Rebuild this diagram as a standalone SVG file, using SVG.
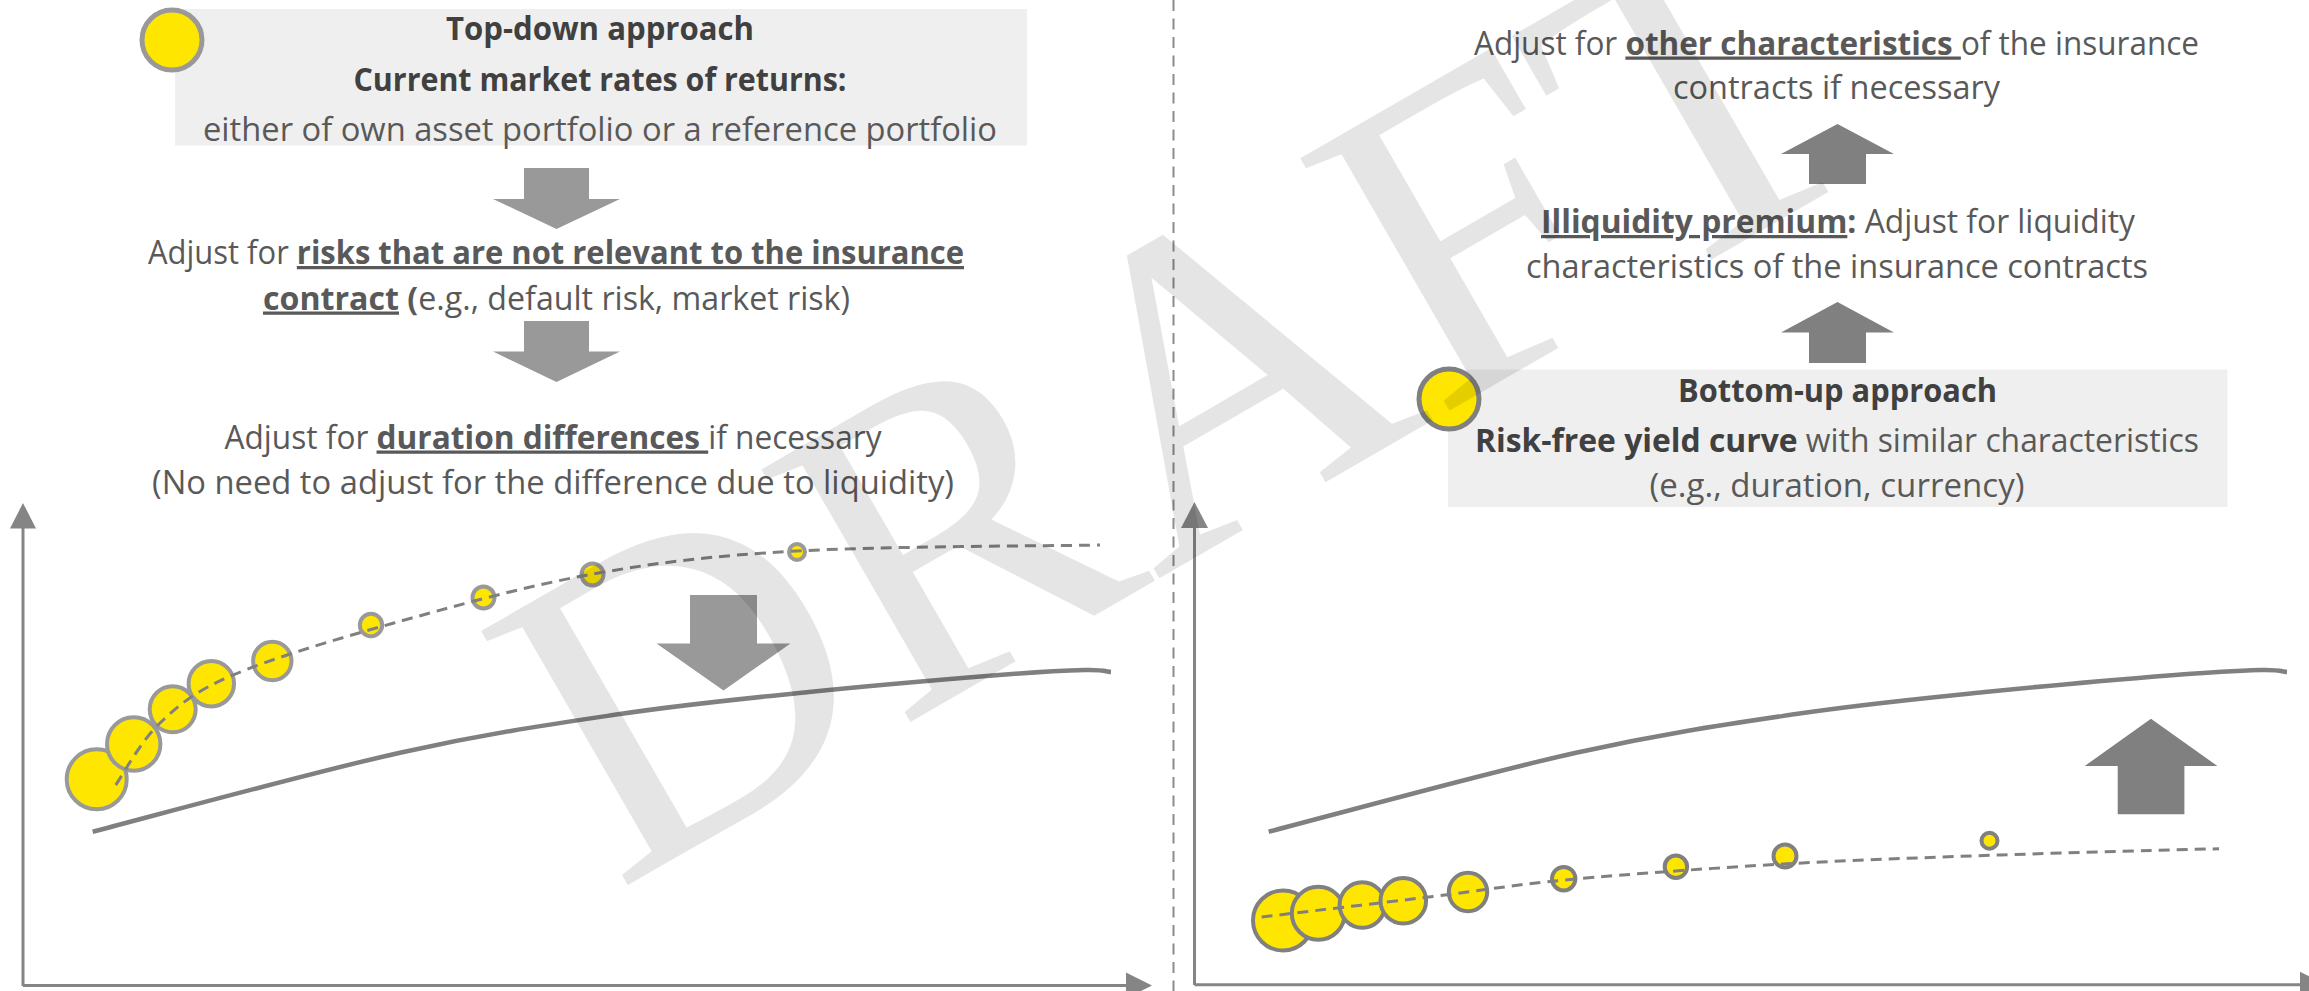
<svg xmlns="http://www.w3.org/2000/svg" width="2309" height="991" viewBox="0 0 2309 991">
<defs>
<style>
.txt{font-family:"Open Sans","Liberation Sans",sans-serif;font-size:32.5px;fill:#595959;}
.ttl{fill:#404040;font-weight:700;}
.b{font-weight:700;}
.u{text-decoration:underline;text-decoration-thickness:2.5px;text-underline-offset:5px;}
.box{fill:#efefef;}
.dotL{fill:#ffe600;stroke:#999999;stroke-width:4;}
.dotR{fill:#ffe600;stroke:#808080;stroke-width:4;}
.big{stroke-width:5;}
.arrL{fill:#999999;}
.arrR{fill:#808080;}
.axis{stroke:#858585;stroke-width:3;fill:none;}
.head{fill:#858585;}
.solid{stroke:#808080;stroke-width:4.5;fill:none;}
.dash{stroke:#808080;stroke-width:3;fill:none;stroke-dasharray:11 7;}
.divider{stroke:#8c8c8c;stroke-width:2;stroke-dasharray:11 7.5;}
.wm{font-family:"Liberation Serif","Times New Roman",serif;font-size:448px;fill:#000;fill-opacity:0.1;}
</style>
</defs>
<rect width="2309" height="991" fill="#ffffff"/>

<g id="top-down-box">
<rect class="box" x="175" y="9" width="852" height="136.5"/>
<circle class="dotL big" cx="172" cy="40" r="30"/>
<text class="txt ttl" x="600" y="40" text-anchor="middle" textLength="308" lengthAdjust="spacingAndGlyphs">Top-down approach</text>
<text class="txt ttl" x="600" y="90.5" text-anchor="middle" textLength="493" lengthAdjust="spacingAndGlyphs">Current market rates of returns:</text>
<text class="txt" x="600" y="140.5" text-anchor="middle" textLength="794" lengthAdjust="spacingAndGlyphs">either of own asset portfolio or a reference portfolio</text>
</g>

<g id="adjust-risks">
<text class="txt" x="556" y="264" text-anchor="middle" textLength="816" lengthAdjust="spacingAndGlyphs">Adjust for <tspan class="b u">risks that are not relevant to the insurance</tspan></text>
<text class="txt" x="556.5" y="309.5" text-anchor="middle" textLength="587" lengthAdjust="spacingAndGlyphs"><tspan class="b u">contract</tspan><tspan class="b"> (</tspan>e.g., default risk, market risk)</text>
</g>

<g id="adjust-duration">
<text class="txt" x="553" y="448.5" text-anchor="middle" textLength="657" lengthAdjust="spacingAndGlyphs">Adjust for <tspan class="b u">duration differences </tspan>if necessary</text>
<text class="txt" x="553" y="493.5" text-anchor="middle" textLength="802" lengthAdjust="spacingAndGlyphs">(No need to adjust for the difference due to liquidity)</text>
</g>

<g id="left-chart">
<line class="axis" x1="23" y1="986" x2="23" y2="526"/>
<polygon class="head" points="23,503 10,528.5 36,528.5"/>
<line class="axis" x1="23" y1="985.5" x2="1128" y2="985.5"/>
<polygon class="head" points="1152,985.5 1126,972.5 1126,998.5"/>
<path class="solid" d="M92.7,831.7 C143.9,818.5 312.1,772.3 400,752.7 C487.9,733.1 551.8,724.1 620,714 C688.2,703.9 745.8,698.5 809,692 C872.2,685.5 953,678.7 999,675 C1045,671.3 1066.3,670.5 1085,670 C1103.7,669.5 1106.7,671.7 1111,672"/>
<circle class="dotL" cx="96.7" cy="779.3" r="30"/>
<circle class="dotL" cx="133.7" cy="744" r="26.7"/>
<circle class="dotL" cx="172.7" cy="709.3" r="23"/>
<circle class="dotL" cx="211.3" cy="683.7" r="22.7"/>
<circle class="dotL" cx="272.3" cy="661" r="19.2"/>
<circle class="dotL" cx="371" cy="625" r="11.2"/>
<circle class="dotL" cx="483.5" cy="597.5" r="11"/>
<circle class="dotL" cx="592.5" cy="574.5" r="11"/>
<circle class="dotL" cx="797" cy="552" r="8"/>
<path class="dash" d="M115.7,785 C123.1,774.7 140.4,741.3 160,723 C179.6,704.7 194.2,691.6 233,675 C271.8,658.4 333,640.1 393,623.3 C453,606.5 525.7,586 593,574 C660.3,562 712.5,555.8 797,551 C881.5,546.2 1049.5,546 1100,545"/>
</g>

<g id="right-chart">
<line class="axis" x1="1194.5" y1="985" x2="1194.5" y2="526"/>
<polygon class="head" points="1194.5,502 1181,528 1208,528"/>
<line class="axis" x1="1194.5" y1="984.7" x2="2302" y2="984.7"/>
<polygon class="head" points="2326,984.7 2300,971.7 2300,997.7"/>
<path class="solid" d="M1268.7,831.7 C1319.9,818.5 1488.1,772.3 1576,752.7 C1663.9,733.1 1727.8,724.1 1796,714 C1864.2,703.9 1921.8,698.5 1985,692 C2048.2,685.5 2129,678.7 2175,675 C2221,671.3 2242.3,670.5 2261,670 C2279.7,669.5 2282.7,671.7 2287,672"/>
<circle class="dotR" cx="1283" cy="920.5" r="30"/>
<circle class="dotR" cx="1318.3" cy="913.3" r="26.5"/>
<circle class="dotR" cx="1362.3" cy="905" r="22.7"/>
<circle class="dotR" cx="1403.3" cy="900.7" r="22.8"/>
<circle class="dotR" cx="1468" cy="892" r="19.2"/>
<circle class="dotR" cx="1563.7" cy="878.7" r="11.7"/>
<circle class="dotR" cx="1675.9" cy="866.7" r="11.2"/>
<circle class="dotR" cx="1785" cy="856" r="11.5"/>
<circle class="dotR" cx="1989.5" cy="840.7" r="8"/>
<path class="dash" d="M1261.7,917 C1290.3,913.6 1381.6,902.75 1433,896.5 C1484.4,890.25 1511.7,884.9 1570,879.5 C1628.3,874.1 1711.3,868.1 1783,864 C1854.7,859.9 1927.3,857.55 2000,855 C2072.7,852.45 2182.5,849.75 2219,848.7"/>
</g>

<g id="other-characteristics">
<text class="txt" x="1836.5" y="54.5" text-anchor="middle" textLength="725" lengthAdjust="spacingAndGlyphs">Adjust for <tspan class="b u">other characteristics </tspan>of the insurance</text>
<text class="txt" x="1836.5" y="98.5" text-anchor="middle" textLength="327" lengthAdjust="spacingAndGlyphs">contracts if necessary</text>
</g>

<g id="illiquidity-premium">
<text class="txt" x="1838" y="233" text-anchor="middle" textLength="594" lengthAdjust="spacingAndGlyphs"><tspan class="b u">Illiquidity premium</tspan><tspan class="b">:</tspan> Adjust for liquidity</text>
<text class="txt" x="1837" y="277.5" text-anchor="middle" textLength="622" lengthAdjust="spacingAndGlyphs">characteristics of the insurance contracts</text>
</g>

<g id="bottom-up-box">
<rect class="box" x="1448" y="369.5" width="779.5" height="137.5"/>
<circle class="dotR big" cx="1449" cy="399" r="30"/>
<text class="txt ttl" x="1837.5" y="402" text-anchor="middle" textLength="319" lengthAdjust="spacingAndGlyphs">Bottom-up approach</text>
<text class="txt" x="1837" y="452" text-anchor="middle" textLength="724" lengthAdjust="spacingAndGlyphs"><tspan class="b" fill="#404040">Risk-free yield curve</tspan> with similar characteristics</text>
<text class="txt" x="1837" y="497" text-anchor="middle" textLength="375" lengthAdjust="spacingAndGlyphs">(e.g., duration, currency)</text>
</g>

<g id="connectors">
<polygon class="arrL" points="524,168 589,168 589,199 620,199 556.5,229 493,199 524,199"/>
<polygon class="arrL" points="524,321 589,321 589,351.5 620,351.5 556.5,382 493,351.5 524,351.5"/>
<polygon class="arrL" points="690,595 757,595 757,643.5 790.5,643.5 723.5,690.5 656.5,643.5 690,643.5"/>
<polygon class="arrR" points="1837.5,124 1894,154 1866,154 1866,184 1809,184 1809,154 1781,154"/>
<polygon class="arrR" points="1837.5,302 1894,332.5 1866,332.5 1866,363 1809,363 1809,332.5 1781,332.5"/>
<polygon class="arrR" points="2151,718.7 2217.4,766 2184.4,766 2184.4,814.3 2117.7,814.3 2117.7,766 2084.7,766"/>
</g>

<line class="divider" x1="1173.5" y1="0" x2="1173.5" y2="991"/>

<text class="wm" transform="translate(616.6,891.6) rotate(-30)">DRAFT</text>
</svg>
